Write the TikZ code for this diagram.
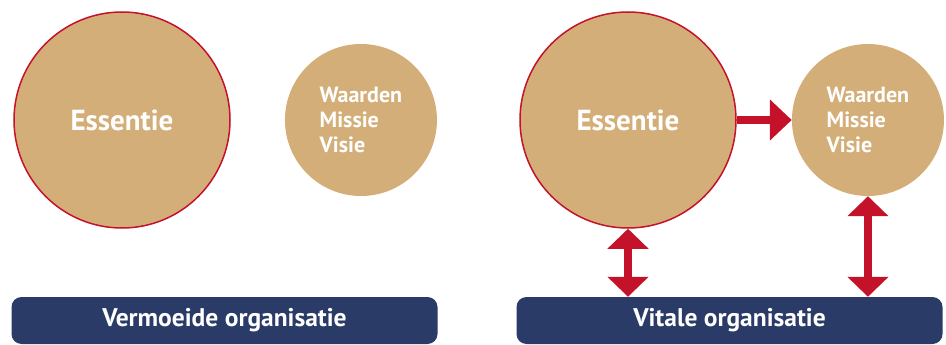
\documentclass[tikz,border=0pt]{standalone}
\usepackage{fontspec}
\setmainfont{PT Sans}
\usetikzlibrary{arrows.meta, positioning}
\definecolor{goud}{RGB}{212,174,120}
\definecolor{rood}{RGB}{196,18,42}
\definecolor{marine}{RGB}{42,59,104}

\begin{document}
\begin{tikzpicture}[x=1pt, y=-1pt,
        kern/.style={circle, fill=goud, draw=rood, line width=1.5pt, minimum size=216pt, inner sep=0pt, text=white, font=\fontsize{29}{34}\selectfont\bfseries},
        waarde/.style={circle, fill=goud, minimum size=152pt, inner sep=0pt, text=white, align=left, font=\fontsize{22}{25}\selectfont\bfseries},
        balk/.style={rounded corners=10pt, fill=marine, text=white, minimum width=426pt, minimum height=47pt, font=\fontsize{25.5}{30}\selectfont\bfseries},
        pijl/.style={-{Triangle[width=40pt, length=22pt]}, line width=8pt, rood},
        dubbel/.style={{Triangle[width=40pt, length=20pt]}-{Triangle[width=40pt, length=20pt]}, line width=8pt, rood},
        node distance=54pt
    ]
        \useasboundingbox (0,0) rectangle (946,345);

        % vermoeide organisatie
        \node[kern] (ess1) at (122,120) {Essentie};
        \node[waarde, right=of ess1] (wmv1) {Waarden\\Missie\\Visie};
        \node[balk] (bar1) at (224.5,320.5) {Vermoeide organisatie};

        % vitale organisatie
        \node[kern] (ess2) at (628,120) {Essentie};
        \node[waarde, right=55pt of ess2] (wmv2) {Waarden\\Missie\\Visie};
        \node[balk] (bar2) at (729.5,320.5) {Vitale organisatie};

        \draw[pijl] (ess2) -- (wmv2);
        \draw[dubbel] (ess2.south) -- (ess2.south |- bar2.north);
        \draw[dubbel] (wmv2.south) -- (wmv2.south |- bar2.north);
    \end{tikzpicture}
\end{document}
